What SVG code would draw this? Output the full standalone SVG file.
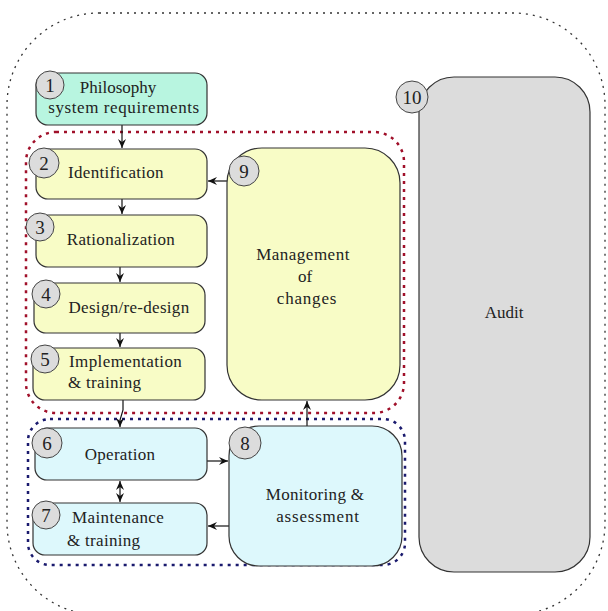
<svg xmlns="http://www.w3.org/2000/svg" width="608" height="611" viewBox="0 0 608 611">
<defs>
<style>
text{font-family:'Liberation Serif','DejaVu Serif',serif;fill:#222;}
.lbl{font-size:17px;}
.num{font-size:19px;text-anchor:middle;}
.badge{fill:#dcdcdc;stroke:#444;stroke-width:1;}
.g1{fill:#b8f5e0;stroke:#333;stroke-width:1.2;}
.y{fill:#f8fcc6;stroke:#333;stroke-width:1.2;}
.c{fill:#ddf8fc;stroke:#333;stroke-width:1.2;}
.gr{fill:#dcdcdc;stroke:#333;stroke-width:1.2;}
.con{stroke:#111;stroke-width:1.2;fill:none;}
</style>
<marker id="ah" markerWidth="10" markerHeight="10" refX="9" refY="4" orient="auto-start-reverse" markerUnits="userSpaceOnUse">
<path d="M0,0 L9,4 L0,8 L3,4 z" fill="#111"/>
</marker>
</defs>
<rect width="608" height="611" fill="#fff"/>
<g id="boundaries" fill="none">
<rect x="7" y="13" width="598" height="602" rx="92" stroke="#333" stroke-width="1.3" stroke-dasharray="2 5"/>
<rect x="26" y="132" width="378" height="281" rx="30" stroke="#a0102a" stroke-width="2.5" stroke-dasharray="3 5"/>
<rect x="28" y="419" width="377" height="146" rx="22" stroke="#1a1a6e" stroke-width="2.5" stroke-dasharray="3 5"/>
</g>
<g id="connectors">
<line class="con" x1="122" y1="125" x2="122" y2="148" marker-end="url(#ah)"/>
<line class="con" x1="122" y1="199" x2="122" y2="214" marker-end="url(#ah)"/>
<line class="con" x1="120" y1="267" x2="120" y2="282" marker-end="url(#ah)"/>
<line class="con" x1="120" y1="333" x2="120" y2="347" marker-end="url(#ah)"/>
<polyline class="con" points="123,400 123,410 120,420 120,427" marker-end="url(#ah)"/>
<line class="con" x1="120" y1="481" x2="120" y2="502" marker-start="url(#ah)" marker-end="url(#ah)"/>
<line class="con" x1="207" y1="461" x2="228" y2="461" marker-end="url(#ah)"/>
<line class="con" x1="229" y1="526" x2="208" y2="526" marker-end="url(#ah)"/>
<line class="con" x1="307" y1="426" x2="307" y2="401" marker-end="url(#ah)"/>
<line class="con" x1="227" y1="181" x2="208" y2="181" marker-end="url(#ah)"/>
</g>
<g id="n1">
<rect class="g1" x="36" y="73" width="171" height="52" rx="12"/>
<text class="lbl" x="118" y="93" text-anchor="middle">Philosophy</text>
<text class="lbl" x="124" y="113" text-anchor="middle" letter-spacing="0.6">system requirements</text>
<circle class="badge" cx="50" cy="85" r="14"/>
<text class="num" x="50" y="92">1</text>
</g>
<g id="n2">
<rect class="y" x="36" y="149" width="171" height="50" rx="12"/>
<text class="lbl" x="116" y="178" text-anchor="middle" letter-spacing="0.3">Identification</text>
<circle class="badge" cx="44" cy="163" r="15"/>
<text class="num" x="44" y="170">2</text>
</g>
<g id="n3">
<rect class="y" x="36" y="215" width="171" height="52" rx="12"/>
<text class="lbl" x="121" y="245" text-anchor="middle" letter-spacing="0.3">Rationalization</text>
<circle class="badge" cx="40" cy="227" r="14"/>
<text class="num" x="40" y="234">3</text>
</g>
<g id="n4">
<rect class="y" x="34" y="283" width="171" height="50" rx="12"/>
<text class="lbl" x="129" y="313" text-anchor="middle" letter-spacing="0.3">Design/re-design</text>
<circle class="badge" cx="46" cy="294" r="14"/>
<text class="num" x="46" y="301">4</text>
</g>
<g id="n5">
<rect class="y" x="33" y="348" width="172" height="52" rx="12"/>
<text class="lbl" x="69" y="367" letter-spacing="0.4">Implementation</text>
<text class="lbl" x="68" y="388" letter-spacing="0.3">&amp; training</text>
<circle class="badge" cx="45" cy="359" r="14"/>
<text class="num" x="45" y="366">5</text>
</g>
<g id="n6">
<rect class="c" x="35" y="428" width="172" height="52" rx="12"/>
<text class="lbl" x="120" y="460" text-anchor="middle" letter-spacing="0.3">Operation</text>
<circle class="badge" cx="47" cy="443" r="15"/>
<text class="num" x="47" y="450">6</text>
</g>
<g id="n7">
<rect class="c" x="33" y="503" width="174" height="52" rx="12"/>
<text class="lbl" x="72" y="523" letter-spacing="0.4">Maintenance</text>
<text class="lbl" x="67" y="546" letter-spacing="0.3">&amp; training</text>
<circle class="badge" cx="46" cy="515" r="14"/>
<text class="num" x="46" y="522">7</text>
</g>
<g id="n8">
<rect class="c" x="229" y="426" width="173" height="140" rx="30"/>
<text class="lbl" x="315" y="500" text-anchor="middle" letter-spacing="0.3">Monitoring &amp;</text>
<text class="lbl" x="318" y="522" text-anchor="middle" letter-spacing="0.8">assessment</text>
<circle class="badge" cx="245" cy="443" r="16"/>
<text class="num" x="245" y="450">8</text>
</g>
<g id="n9">
<rect class="y" x="227" y="148" width="173" height="252" rx="35"/>
<text class="lbl" x="303" y="260" text-anchor="middle" letter-spacing="0.5">Management</text>
<text class="lbl" x="305" y="282" text-anchor="middle">of</text>
<text class="lbl" x="307" y="304" text-anchor="middle" letter-spacing="0.8">changes</text>
<circle class="badge" cx="244" cy="171" r="15"/>
<text class="num" x="244" y="178">9</text>
</g>
<g id="n10">
<rect class="gr" x="419" y="77" width="171" height="495" rx="35"/>
<text class="lbl" x="504" y="318" text-anchor="middle" font-size="16">Audit</text>
<circle class="badge" cx="412" cy="97" r="16"/>
<text class="num" x="412" y="104">10</text>
</g>
</svg>
